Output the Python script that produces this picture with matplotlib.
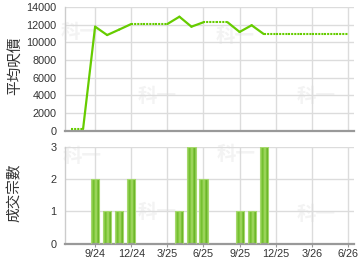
import numpy as np
import matplotlib
matplotlib.use("Agg")
import matplotlib.pyplot as plt
import matplotlib.transforms as mtransforms
from matplotlib.patches import Rectangle

plt.rcParams['font.family'] = ['Liberation Sans', 'Noto Sans CJK TC', 'DejaVu Sans']

# ---- data ----
months = ['2024-07', '2024-08', '2024-09', '2024-10', '2024-11', '2024-12',
          '2025-01', '2025-02', '2025-03', '2025-04', '2025-05', '2025-06',
          '2025-07', '2025-08', '2025-09', '2025-10', '2025-11', '2025-12',
          '2026-01', '2026-02', '2026-03', '2026-04', '2026-05', '2026-06']
nan = np.nan
avg_price = [nan, nan, 11600, 10650, 11270, 11900,
             nan, nan, nan, 12730, 11600, 12100,
             nan, nan, 11000, 11760, 10770, nan,
             nan, nan, nan, nan, nan, nan]
deals = [0, 0, 2, 1, 1, 2,
         0, 0, 0, 1, 3, 2,
         0, 0, 1, 1, 3, 0,
         0, 0, 0, 0, 0, 0]
tick_labels = ['9/24', '12/24', '3/25', '6/25', '9/25', '12/25', '3/26', '6/26']
tick_months = ['2024-09', '2024-12', '2025-03', '2025-06', '2025-09', '2025-12', '2026-03', '2026-06']
ylabel_top = '平均呎價'
ylabel_bot = '成交宗數'

def mindex(m):
    y, mo = m.split('-')
    return (int(y) - 2024) * 12 + int(mo) - 9  # Sep 2024 -> 0

x = np.array([mindex(m) for m in months], dtype=float)
p = np.array(avg_price, dtype=float)
filled = p.copy()
last = 0.0
for i in range(len(filled)):
    if np.isnan(filled[i]):
        filled[i] = last
    else:
        last = filled[i]
actual = ~np.isnan(p)

W, H = 360, 270
fig = plt.figure(figsize=(3.6, 2.7), dpi=100)
ax1 = fig.add_axes([65 / W, 1 - 130.5 / H, 289 / W, 123.5 / H])
ax2 = fig.add_axes([65 / W, 1 - 243.5 / H, 289 / W, 96.5 / H])

GREEN = '#66cc00'
for ax in (ax1, ax2):
    ax.set_xlim(-2.5, 21.5)
    ax.set_xticks([mindex(m) for m in tick_months])
    ax.grid(True, color='#dcdcdc', lw=1.0)
    ax.set_axisbelow(True)
    for s in ('top', 'right'):
        ax.spines[s].set_visible(False)
    ax.spines['left'].set_color('#cccccc')
    ax.spines['left'].set_linewidth(1.0)
    ax.spines['bottom'].set_color('#999999')
    ax.spines['bottom'].set_linewidth(1.6)
    ax.tick_params(axis='y', length=0, pad=6, labelsize=7.8, labelcolor='#333333')
    ax.tick_params(axis='x', length=2.5, color='#999999', pad=1.5, labelsize=7.8, labelcolor='#333333')

# top: price line
ax1.set_ylim(0, 14000)
ax1.set_yticks(range(0, 14001, 2000))
ax1.tick_params(axis='x', labelbottom=False, length=0)
lift = mtransforms.offset_copy(ax1.transData, fig=fig, x=0, y=1.5, units='dots')
for i in range(len(x) - 1):
    seg_x = x[i:i + 2]
    seg_y = filled[i:i + 2]
    if actual[i + 1]:
        ax1.plot(seg_x, seg_y, color=GREEN, lw=1.6, solid_capstyle='round', zorder=4,
                 clip_on=False, transform=lift)
    else:
        ax1.plot(seg_x, seg_y, color=GREEN, lw=1.5, linestyle=(0, (1, 0.5)), zorder=4,
                 clip_on=False, transform=lift)

# bottom: bar chart with gradient
ax2.set_ylim(0, 3)
ax2.set_yticks([0, 1, 2, 3])
ax2.set_xticklabels(tick_labels)
grad_cols = ['#b4df86', '#8fcf4c', '#6cbb26', '#8ed04a', '#a9da6c', '#7fc63a', '#5fae1c', '#9fd66a']
cmap = matplotlib.colors.LinearSegmentedColormap.from_list('g', grad_cols)
bw = 0.68
grad = np.linspace(0, 1, 64).reshape(1, -1)
for xi, d in zip(x, deals):
    if d <= 0:
        continue
    im = ax2.imshow(grad, cmap=cmap, aspect='auto',
                    extent=(xi - bw / 2, xi + bw / 2, 0, d), zorder=2, interpolation='bilinear')
    rect = Rectangle((xi - bw / 2, 0), bw, d, facecolor='none', edgecolor='#a6d86e', lw=0.8, zorder=3)
    ax2.add_patch(rect)
    im.set_clip_path(rect)
ax2.set_xlim(-2.5, 21.5)
ax2.set_ylim(0, 3)

# y labels
fig.text(15 / W, 1 - 65.5 / H, ylabel_top, rotation=90, ha='center', va='center',
         fontsize=10.5, color='#333333', family=['Noto Sans CJK TC'])
fig.text(15 / W, 1 - 193 / H, ylabel_bot, rotation=90, ha='center', va='center',
         fontsize=10.5, color='#333333', family=['Noto Sans CJK TC'])

# faint watermarks
for (cx, cy) in [(80, 33), (157, 97), (235, 36), (316, 96),
                 (82, 157), (157, 213), (236, 154), (316, 215)]:
    fig.text(cx / W, 1 - cy / H, '科一', ha='center', va='center', fontsize=14,
             fontweight='bold', color='#f3f3f3', family=['Noto Sans CJK TC'], zorder=-1)
ax1.set_facecolor('none')
ax2.set_facecolor('none')

fig.savefig('out.png', dpi=100, facecolor='white')
